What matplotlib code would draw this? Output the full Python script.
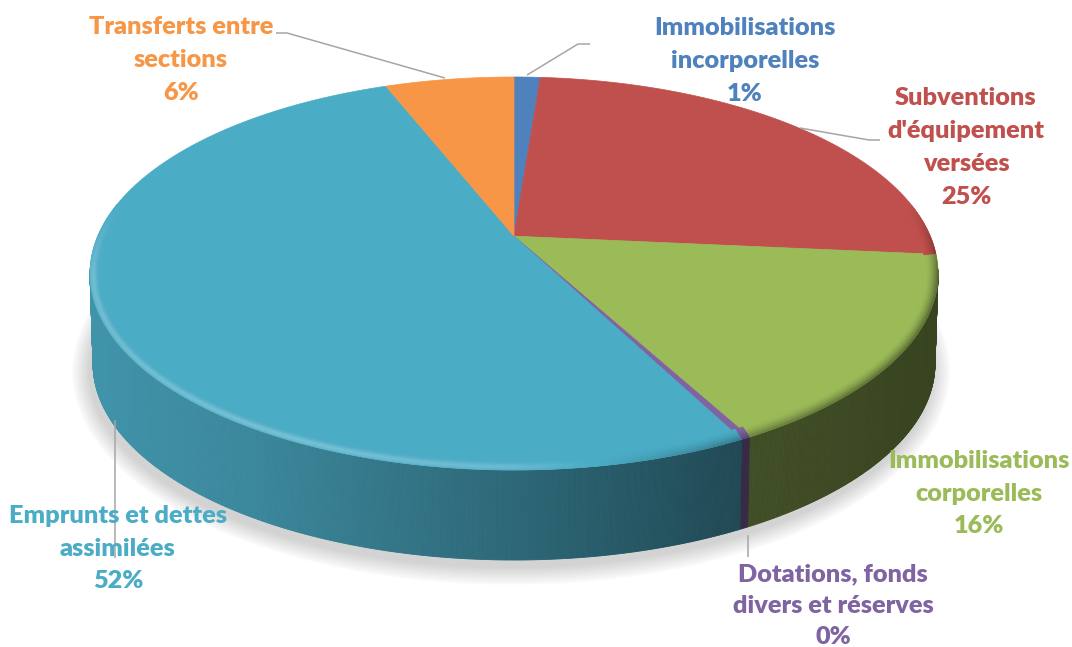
import numpy as np
import matplotlib
matplotlib.use("Agg")
import matplotlib.pyplot as plt
from matplotlib.collections import PolyCollection
from matplotlib.patches import Polygon, Ellipse
from matplotlib.colors import to_rgb

# ---------------- data ----------------
categories = ["Immobilisations incorporelles",
              "Subventions d'équipement versées",
              "Immobilisations corporelles",
              "Dotations, fonds divers et réserves",
              "Emprunts et dettes assimilées",
              "Transferts entre sections"]
label_lines = [["Immobilisations", "incorporelles"],
               ["Subventions", "d'équipement", "versées"],
               ["Immobilisations", "corporelles"],
               ["Dotations, fonds", "divers et réserves"],
               ["Emprunts et dettes", "assimilées"],
               ["Transferts entre", "sections"]]
values = [1.2, 25.3, 15.7, 0.3, 51.6, 5.9]
colors = ["#4F81BD", "#C0504D", "#9BBB59", "#8064A2", "#4BACC6", "#F79646"]

# ---------------- layout ----------------
W, H = 1072, 647
CX, CY = 514.0, 273.5      # centre of projected top ellipse
RX, RY = 424.0, 196.5      # radii of projected top ellipse
B = 0.19                   # perspective shift of pie centre
DEPTH = 90.0
label_x = [745, 966, 979, 833, 118, 181]
label_base = [[35, 68, 101], [105, 138, 171, 204], [468, 501, 533],
              [581, 613, 644], [523, 556, 588], [34, 67, 100]]
leaders = [[(590, 44), (578, 44), (527, 75)],
           [(880, 140), (869, 140), (800, 128)],
           None,
           [(748, 535), (748, 557)],
           [(115, 420), (115, 558)],
           [(276, 33), (287, 33), (445, 78)]]

fig = plt.figure(figsize=(W / 100, H / 100), dpi=100)
ax = fig.add_axes([0, 0, 1, 1])
ax.set_xlim(0, W)
ax.set_ylim(H, 0)
ax.axis("off")


def proj(t):
    """circle angle (rad) -> normalised ellipse coords (u, v)"""
    x, y = np.cos(t), np.sin(t)
    den = 1 + B * y
    return x * np.sqrt(1 - B ** 2) / den, (y + B) / den


def to_img(u, v, rx=RX, ry=RY, dy=0.0):
    return CX + rx * u, CY - ry * v + dy


def mix(c, target, a):
    c = np.array(c)
    return tuple(c + (np.array(target) - c) * a)


def shade(c, amt):
    if amt >= 0:
        return mix(c, (1, 1, 1), amt)
    return mix(c, (0, 0, 0), -amt)


# ---------------- shadow ----------------
for k in range(14):
    e = Ellipse((CX - 3, CY + DEPTH + 8), 2 * (RX - 2 + k * 1.3), 2 * (RY + k * 1.3),
                facecolor=(0.55, 0.55, 0.55), edgecolor="none", alpha=0.028, zorder=1)
    ax.add_patch(e)

cum = np.concatenate([[0], np.cumsum(values)]) / np.sum(values)
t_starts = np.deg2rad(90 - 360 * cum[:-1])
t_ends = np.deg2rad(90 - 360 * cum[1:])

side_u = [-1.0, -0.6, 0.0, 0.55, 1.0]
side_f = [0.86, 0.78, 0.60, 0.42, 0.36]

# ---------------- sides ----------------
side_polys, side_cols = [], []
for i in range(len(values)):
    base = to_rgb(colors[i])
    n = max(int(abs(t_ends[i] - t_starts[i]) / np.deg2rad(0.25)), 3)
    t = np.linspace(t_starts[i], t_ends[i], n)
    u, v = proj(t)
    for j in range(n - 1):
        if v[j] > 0.02 and v[j + 1] > 0.02:
            continue
        x1, y1 = to_img(u[j], v[j])
        x2, y2 = to_img(u[j + 1], v[j + 1])
        bx1, by1 = to_img(u[j], v[j], rx=RX - 3, dy=DEPTH)
        bx2, by2 = to_img(u[j + 1], v[j + 1], rx=RX - 3, dy=DEPTH)
        um = 0.5 * (u[j] + u[j + 1])
        f = np.interp(um, side_u, side_f)
        side_polys.append([(x1, y1), (x2, y2), (bx2, by2), (bx1, by1)])
        side_cols.append(tuple(np.array(base) * f))
ax.add_collection(PolyCollection(side_polys, facecolors=side_cols, edgecolors=side_cols,
                                 linewidths=0.6, zorder=2))

# ---------------- top faces ----------------
pcx, pcy = to_img(0.0, B)
for i in range(len(values)):
    n = max(int(abs(t_ends[i] - t_starts[i]) / np.deg2rad(0.3)), 3)
    t = np.linspace(t_starts[i], t_ends[i], n)
    u, v = proj(t)
    xs, ys = to_img(u, v)
    pts = [(pcx, pcy)] + list(zip(xs, ys))
    ax.add_patch(Polygon(pts, closed=True, facecolor=colors[i], edgecolor=colors[i],
                         linewidth=0.5, zorder=3))

# ---------------- bevel rim ----------------
rim_u = [-1.0, -0.5, 0.0, 0.3, 0.6, 1.0]
rim_a = [0.22, 0.26, 0.18, -0.10, -0.35, -0.45]
WB = 12.0
layers = np.linspace(0, WB, 13)
bev_polys, bev_cols = [], []
for i in range(len(values)):
    base = to_rgb(colors[i])
    n = max(int(abs(t_ends[i] - t_starts[i]) / np.deg2rad(0.5)), 3)
    t = np.linspace(t_starts[i], t_ends[i], n)
    u, v = proj(t)
    for j in range(n - 1):
        vm = 0.5 * (v[j] + v[j + 1])
        if vm > 0.35:
            continue
        taper = 1.0 if vm < 0 else max(0.0, 1 - vm / 0.35)
        um = 0.5 * (u[j] + u[j + 1])
        a = np.interp(um, rim_u, rim_a) * taper
        for k in range(len(layers) - 1):
            d0, d1 = layers[k], layers[k + 1]
            dm = 0.5 * (d0 + d1)
            if a > 0:
                prof = np.exp(-((dm - 3.5) / 3.5) ** 2)
            else:
                prof = (1 - dm / WB) ** 1.6
            col = shade(base, a * prof)
            p0 = to_img(u[j], v[j], rx=RX - d0, ry=RY - d0)
            p1 = to_img(u[j + 1], v[j + 1], rx=RX - d0, ry=RY - d0)
            p2 = to_img(u[j + 1], v[j + 1], rx=RX - d1, ry=RY - d1)
            p3 = to_img(u[j], v[j], rx=RX - d1, ry=RY - d1)
            bev_polys.append([p0, p1, p2, p3])
            bev_cols.append(col)
ax.add_collection(PolyCollection(bev_polys, facecolors=bev_cols, edgecolors=bev_cols,
                                 linewidths=0.4, zorder=4))

# ---------------- labels ----------------
for i in range(len(values)):
    lines = label_lines[i] + [f"{round(values[i])}%"]
    for line, yb in zip(lines, label_base[i]):
        ax.text(label_x[i], yb, line, ha="center", va="baseline", color=colors[i],
                fontsize=18.2, fontweight="heavy", family="Lato", zorder=6)
    if leaders[i] is not None:
        xs, ys = zip(*leaders[i])
        ax.plot(xs, ys, color="#A6A6A6", lw=1.1, zorder=5, solid_capstyle="butt")

fig.savefig("out.png", dpi=100)
